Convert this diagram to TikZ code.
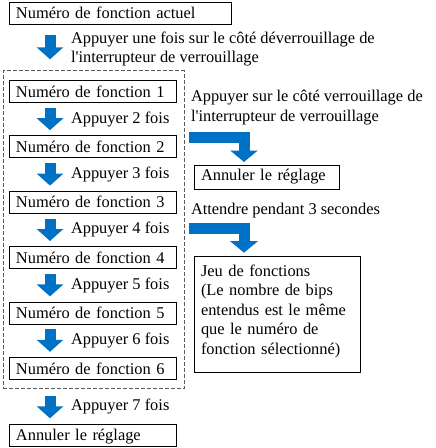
\documentclass[tikz,border=0pt]{standalone}
\usepackage{fontspec}
\setmainfont{Liberation Serif}[Ligatures=TeXOff]
\usetikzlibrary{positioning,fit,arrows.meta}
\definecolor{keyblue}{RGB}{0,114,198}

\tikzstyle{fbox} = [draw, line width=0.8pt, outer sep=0pt, minimum height=22pt, text width=153pt, text height=14pt, text depth=2.6pt, inner xsep=7pt, inner ysep=0pt, align=left]
\tikzstyle{press} = [draw=keyblue, line width=11pt, -{Triangle[width=26pt,length=12pt]}, shorten <=5.5pt, shorten >=5.5pt]
\tikzstyle{presslabel} = [anchor=west, xshift=21pt, inner sep=0pt, outer sep=0pt, align=left, text=black]
\tikzstyle{group} = [draw=black!65, dash pattern=on 4pt off 2pt, line width=0.8pt]
\tikzstyle{note} = [inner sep=0pt, outer sep=0pt, align=left, text=black]

\begin{document}
\begin{tikzpicture}[x=1pt, y=-1pt, font=\fontsize{16.4pt}{19.5pt}\selectfont]
\useasboundingbox (0,0) rectangle (436,448);
%huidig nummer
\node[fbox, text width=208pt, minimum height=21.6pt, text height=12pt, text depth=2.4pt, anchor=north west] (actuel) at (9,2.7) {Numéro de fonction actuel};
%begin functies 1-6
\node[fbox, below right=56pt and 0pt of actuel.south west] (f1) {Numéro de fonction 1};
\node[fbox, below=33.4pt of f1] (f2) {Numéro de fonction 2};
\node[fbox, below=33.4pt of f2] (f3) {Numéro de fonction 3};
\node[fbox, below=33.4pt of f3] (f4) {Numéro de fonction 4};
\node[fbox, below=33.4pt of f4] (f5) {Numéro de fonction 5};
\node[fbox, below=33.4pt of f5] (f6) {Numéro de fonction 6};
%end functies 1-6
\node[fbox, below=45pt of f6, minimum height=22.4pt, text height=12.4pt, text depth=3.4pt] (annuler) {Annuler le réglage};
%kader
\node[group, fit=(f1)(f6), inner xsep=7pt, inner ysep=9.5pt, xshift=1pt] (groupe) {};

%begin pijlen links
\draw[press, shorten <=11pt, shorten >=21pt] ([xshift=41pt]actuel.south west) -- ([xshift=41pt]f1.north west)
    node[presslabel, pos=0.443] {Appuyer une fois sur le côté déverrouillage de\\l'interrupteur de verrouillage};
\draw[press] ([xshift=41pt]f1.south west) -- ([xshift=41pt]f2.north west)
    node[presslabel, midway] {Appuyer 2 fois};
\draw[press] ([xshift=41pt]f2.south west) -- ([xshift=41pt]f3.north west)
    node[presslabel, midway] {Appuyer 3 fois};
\draw[press] ([xshift=41pt]f3.south west) -- ([xshift=41pt]f4.north west)
    node[presslabel, midway] {Appuyer 4 fois};
\draw[press] ([xshift=41pt]f4.south west) -- ([xshift=41pt]f5.north west)
    node[presslabel, midway] {Appuyer 5 fois};
\draw[press] ([xshift=41pt]f5.south west) -- ([xshift=41pt]f6.north west)
    node[presslabel, midway] {Appuyer 6 fois};
\draw[press, shorten <=17pt, shorten >=6pt] ([xshift=41pt]f6.south west) -- ([xshift=41pt]annuler.north west)
    node[presslabel, pos=0.6] {Appuyer 7 fois};
%end pijlen links

%begin rechts
\node[fbox, text width=131pt, minimum height=24.3pt, text height=12pt, text depth=4.6pt, anchor=north west] (annuler2) at (194,165) {Annuler le réglage};
\node[fbox, text width=152pt, text height=20pt, text depth=96pt, anchor=north west] (jeu) at (194,256)
    {Jeu de fonctions\\(Le nombre de bips\\entendus est le même\\que le numéro de\\fonction sélectionné)};
\coordinate (lockfrom) at (188.5,137.8);
\coordinate (waitfrom) at (188.5,228.8);
\draw[press, line join=miter, shorten <=0pt, shorten >=3pt, -{Triangle[width=27pt,length=11.5pt]}]
    (lockfrom) -| ([xshift=50pt]annuler2.north west)
    node[note, at start, anchor=south west, xshift=2.5pt, yshift=13.1pt] {Appuyer sur le côté verrouillage de\\l'interrupteur de verrouillage};
\draw[press, line join=miter, shorten <=0pt, shorten >=3.3pt, -{Triangle[width=27pt,length=11.5pt]}]
    (waitfrom) -| ([xshift=50pt]jeu.north west)
    node[note, at start, anchor=south west, xshift=2.5pt, yshift=11pt] {Attendre pendant 3 secondes};
%end rechts
\end{tikzpicture}
\end{document}
